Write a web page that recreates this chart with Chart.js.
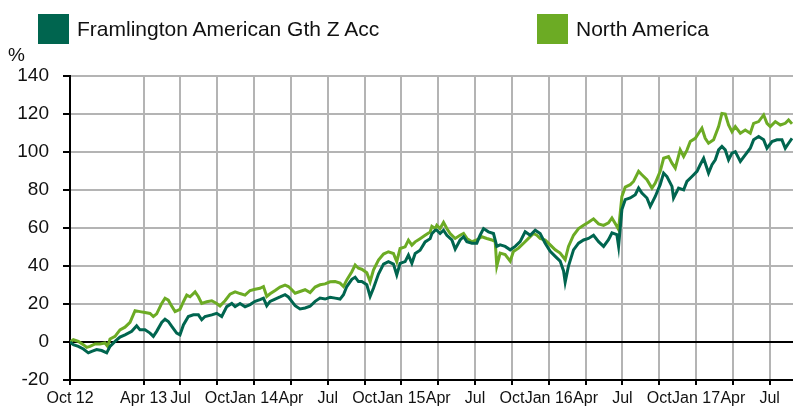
<!DOCTYPE html>
<html>
<head>
<meta charset="utf-8">
<script src="https://cdn.jsdelivr.net/npm/chart.js@4.4.1/dist/chart.umd.min.js"></script>
<style>
  html, body { margin: 0; padding: 0; background: #fff; }
  #wrap { position: relative; width: 793px; height: 406px; }
  #legend { position: absolute; left: 0; top: 14px; width: 793px; height: 31px;
            font-family: "Liberation Sans", Arial, sans-serif; font-size: 21px; color: #111; }
  .item { position: absolute; top: 0; height: 30px; display: flex; align-items: center; white-space: nowrap; }
  .swatch { width: 31px; height: 30px; margin-right: 8px; flex: none; }
</style>
</head>
<body>
<div id="wrap">
  <canvas id="chart" width="793" height="406"></canvas>
  <div id="legend"></div>
</div>
<script>
// Cumulative performance (%), x = months since 1 Oct 2012
const fundName = 'Framlington American Gth Z Acc';
const indexName = 'North America';

const fundMonths = [0,0.27,0.68,1.09,1.49,1.77,2.17,2.58,2.99,3.26,3.67,4.07,4.48,5.03,5.43,5.70,6.11,6.52,6.79,7.06,7.47,7.74,8.01,8.29,8.69,8.96,9.24,9.64,10.05,10.46,10.73,11.00,11.55,11.95,12.36,12.77,13.18,13.45,13.85,14.26,
  14.67,15.08,15.48,15.76,16.03,16.30,16.71,17.11,17.52,17.79,18.07,18.34,18.74,19.15,19.56,19.97,20.37,20.78,21.19,21.60,22.00,22.28,22.55,22.96,23.23,23.50,23.77,24.18,24.45,24.72,25.13,25.54,25.94,26.35,26.62,26.89,27.30,27.57,27.85,28.12,28.52,28.93,29.34,29.48,29.75,
  29.88,30.15,30.43,30.70,31.11,31.38,31.78,32.06,32.33,32.74,33.14,33.41,33.69,34.09,34.50,34.77,35.04,35.45,35.86,36.27,36.67,37.08,37.49,37.90,38.30,38.71,39.12,39.53,39.93,40.21,40.34,40.61,41.02,41.43,41.84,42.24,42.65,43.06,43.47,43.87,44.15,44.55,44.69,
  44.96,45.23,45.64,46.05,46.32,46.59,47.00,47.27,47.68,48.08,48.36,48.63,49.04,49.17,49.58,49.99,50.26,50.67,51.08,51.34,51.62,52.02,52.30,52.57,52.84,53.11,53.38,53.65,53.93,54.20,54.61,55.01,55.42,55.69,56.10,56.51,56.78,57.19,57.59,58.00,58.27,58.54,58.82];
const fundValues = [0,-1.4,-2.3,-3.7,-5.7,-4.9,-4.0,-4.5,-5.7,-2.3,0.3,2.6,3.8,5.6,8.5,6.4,6.4,4.7,3.0,5.6,10.3,12.0,10.8,8.2,4.7,3.8,9.0,13.4,14.3,14.3,11.7,13.4,14.3,15.1,13.4,18.6,20.3,18.6,20.3,18.5,
  19.7,21.4,22.3,23.1,19.1,21.4,22.6,23.7,24.9,23.7,21.4,19.1,17.4,17.9,18.8,21.4,23.1,22.6,23.5,23.1,22.6,24.9,29.2,33.0,34.1,31.8,31.8,30.1,24.0,28.3,35.8,41.0,42.3,41.0,35.3,41.4,42.3,45.7,41.4,46.6,48.3,52.7,54.4,57.0,58.8,
  58.8,57.1,58.8,56.2,53.7,48.9,53.7,55.4,52.8,52.0,52.0,56.2,59.7,58.0,57.1,50.3,51.1,50.3,48.5,50.3,52.8,58.0,56.2,58.8,57.1,52.0,47.7,45.1,42.6,37.4,31.5,40.0,48.5,52.0,53.7,54.5,56.2,52.8,50.3,53.9,57.4,56.5,50.4,
  69.7,74.9,75.8,77.5,81.0,78.4,75.8,71.4,76.6,82.8,88.9,87.1,81.9,75.8,81.0,80.1,84.5,87.1,89.8,93.3,96.7,88.9,93.3,95.9,101.1,102.9,101.1,95.9,99.4,100.2,95.0,98.5,102.0,106.4,108.1,106.4,102.0,105.5,106.4,106.4,102.0,104.6,107.2];

const indexMonths = [0,0.27,0.68,1.09,1.36,1.63,2.04,2.44,2.85,3.07,3.26,3.67,4.07,4.48,4.89,5.30,5.70,6.11,6.52,6.79,7.06,7.47,7.74,8.01,8.23,8.56,8.96,9.24,9.51,9.78,10.19,10.46,10.73,11.14,11.55,11.95,12.22,12.63,13.04,13.45,13.85,14.26,
  14.67,15.08,15.48,15.76,16.03,16.30,16.71,17.11,17.52,17.79,18.07,18.34,18.74,19.15,19.56,19.97,20.37,20.78,21.19,21.60,22.00,22.28,22.55,22.96,23.23,23.50,23.77,24.18,24.45,24.72,25.13,25.54,25.94,26.35,26.62,26.89,27.30,27.57,27.85,28.12,28.52,28.93,29.34,29.48,29.75,
  29.88,30.15,30.43,30.70,30.97,31.38,31.78,32.06,32.33,32.74,33.14,33.55,33.96,34.37,34.64,34.77,35.04,35.45,35.86,36.13,36.54,36.95,37.35,37.76,38.03,38.30,38.71,39.12,39.53,39.93,40.34,40.61,41.02,41.43,41.84,42.24,42.65,43.06,43.47,43.87,44.15,44.55,44.69,
  44.96,45.23,45.64,45.91,46.32,46.59,47.00,47.41,47.68,48.08,48.36,48.76,49.04,49.31,49.71,49.99,50.26,50.53,50.94,51.21,51.48,51.75,52.02,52.43,52.84,53.11,53.38,53.65,53.93,54.20,54.61,55.01,55.42,55.69,56.10,56.51,56.78,57.05,57.46,57.87,58.27,58.54,58.82];
const indexValues = [0,1.2,0.3,-1.4,-2.8,-2.3,-1.0,-1.0,-0.5,-2.3,1.6,3.0,6.4,7.8,10.3,16.5,16.0,15.5,15.0,13.4,14.8,20.3,23.0,22.0,19.5,16.0,17.2,21.2,24.7,23.8,26.4,23.8,20.3,21.2,21.7,20.3,19.0,21.7,25.2,26.4,25.5,24.7,
  27.1,27.8,28.3,29.2,24.0,25.4,27.1,28.9,29.9,29.2,27.5,25.7,26.6,27.5,26.0,28.9,30.1,30.6,31.7,31.8,31.0,29.2,32.7,37.0,40.5,38.8,38.3,36.5,31.8,37.9,43.1,46.3,47.5,46.6,42.3,49.2,50.1,53.6,51.0,52.7,54.4,56.2,57.9,60.9,59.7,
  61.4,59.7,63.0,59.7,57.1,54.5,56.2,57.1,54.5,52.8,53.7,55.4,54.5,53.7,52.8,40.0,46.8,46.0,42.6,47.7,49.4,52.0,54.5,57.1,56.2,54.5,53.7,51.1,48.5,46.8,43.4,50.3,56.2,59.7,61.4,63.0,64.8,62.2,61.4,62.7,65.3,60.9,59.2,
  76.6,81.5,82.8,84.5,89.8,88.0,85.4,81.0,83.6,89.8,96.7,97.6,94.1,91.5,101.1,97.6,101.0,105.5,107.2,109.9,112.5,107.2,104.6,106.4,113.4,120.3,120.0,114.2,110.7,113.4,109.9,111.6,109.9,115.1,116.0,119.5,115.1,113.4,116.0,114.2,115.1,116.9,114.8];

// Quarter ticks along the time axis
const tickMonths = [0,6,9,12,15,18,21,24,27,30,33,36,39,42,45,48,51,54,57];
const tickLabels = ['Oct 12','Apr 13','Jul','Oct','Jan 14','Apr','Jul','Oct','Jan 15','Apr','Jul','Oct','Jan 16','Apr','Jul','Oct','Jan 17','Apr','Jul'];
const yMin = -20, yMax = 140, yStep = 20;
const xEnd = 58.9;

const toPoints = (xs, ys) => xs.map((x, i) => ({ x, y: ys[i] }));

const FONT = '"Liberation Sans", Arial, sans-serif';

// Builds the legend row above the plot from the datasets
const htmlLegend = {
  id: 'htmlLegend',
  afterUpdate(chart) {
    const box = document.getElementById('legend');
    box.innerHTML = '';
    const lefts = [38, 537];
    chart.data.datasets.forEach((ds, i) => {
      const item = document.createElement('div');
      item.className = 'item';
      item.style.left = lefts[i] + 'px';
      const sw = document.createElement('span');
      sw.className = 'swatch';
      sw.style.background = ds.borderColor;
      const tx = document.createElement('span');
      tx.textContent = ds.label;
      item.appendChild(sw);
      item.appendChild(tx);
      box.appendChild(item);
    });
  }
};

// Unit marker above the value axis
const unitLabel = {
  id: 'unitLabel',
  afterDraw(chart) {
    const { ctx } = chart;
    const y = chart.scales.y;
    ctx.save();
    ctx.font = '19px ' + FONT;
    ctx.fillStyle = '#111';
    ctx.textAlign = 'left';
    ctx.textBaseline = 'alphabetic';
    ctx.fillText('%', y.left + 8, y.top - 15);
    ctx.restore();
  }
};

new Chart(document.getElementById('chart'), {
  type: 'line',
  data: {
    datasets: [
      { label: fundName, data: toPoints(fundMonths, fundValues), borderColor: '#00654f',
        borderWidth: 3, pointRadius: 0, tension: 0, fill: false },
      { label: indexName, data: toPoints(indexMonths, indexValues), borderColor: '#6cab24',
        borderWidth: 3, pointRadius: 0, tension: 0, fill: false }
    ]
  },
  options: {
    responsive: false,
    animation: false,
    layout: { padding: { top: 76, right: 0, bottom: 0, left: 0 } },
    plugins: { legend: { display: false }, tooltip: { enabled: false } },
    scales: {
      x: {
        type: 'linear',
        min: 0,
        max: xEnd,
        afterBuildTicks: (scale) => { scale.ticks = tickMonths.map(v => ({ value: v })); },
        afterFit: (scale) => { scale.height = 26; },
        ticks: {
          autoSkip: false, maxRotation: 0, padding: 4,
          color: '#111', font: { family: FONT, size: 16 },
          callback: (v) => tickLabels[tickMonths.indexOf(v)]
        },
        grid: { color: '#b4b4b4', lineWidth: 2, tickLength: 5, tickColor: '#000', tickWidth: 2 },
        border: { color: '#000', width: 2 }
      },
      y: {
        min: yMin,
        max: yMax,
        afterFit: (scale) => { scale.width = 70; },
        ticks: {
          stepSize: yStep, padding: 14,
          color: '#111', font: { family: FONT, size: 19 }
        },
        grid: {
          color: (c) => (c.tick && c.tick.value === 0 ? '#000' : '#b4b4b4'),
          lineWidth: 2, tickLength: 7, tickColor: '#000', tickWidth: 2
        },
        border: { color: '#000', width: 2 }
      }
    }
  },
  plugins: [htmlLegend, unitLabel]
});
</script>
</body>
</html>
